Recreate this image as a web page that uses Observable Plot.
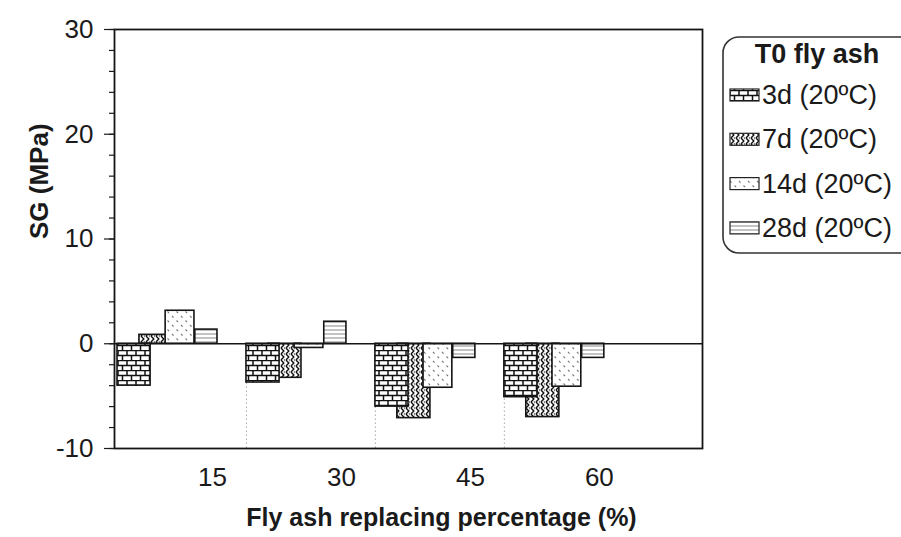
<!DOCTYPE html>
<html><head><meta charset="utf-8">
<script src="https://cdn.jsdelivr.net/npm/d3@7"></script>
<script src="https://cdn.jsdelivr.net/npm/@observablehq/plot@0.6"></script>
<style>
body{margin:0;background:#fff;}
#chart{position:relative;width:901px;height:537px;font-family:"Liberation Sans",Arial,sans-serif;color:#1a1a1a;}
</style>
</head><body><div id="chart"></div>
<script>
// ---- data ----
const percentages = [15, 30, 45, 60];
const series = ["3d (20ºC)", "7d (20ºC)", "14d (20ºC)", "28d (20ºC)"];
const sg3d  = [-4.0, -3.7, -6.0, -5.1];
const sg7d  = [0.85, -3.25, -7.1, -7.0];
const sg14d = [3.15, -0.4, -4.2, -4.1];
const sg28d = [1.35, 2.1, -1.35, -1.35];
const yTicks = [-10, 0, 10, 20, 30];
const yMinorTicks = [-10, -8, -6, -4, -2, 0, 2, 4, 6, 8, 10, 12, 14, 16, 18, 20, 22, 24, 26, 28, 30];
const legendTitle = "T0 fly ash";
const xTitle = "Fly ash replacing percentage (%)";
const yTitle = "SG (MPa)";

// ---- layout (not data) ----
const slots = [[-11.05, -7.2], [-8.5, -4.65], [-5.45, -2.1], [-2.0, 0.58]];
const patternIds = ["pat-brick", "pat-wave", "pat-dots", "pat-lines"];
const drawOrder = [1, 0, 2, 3];

const valuesBySeries = [sg3d, sg7d, sg14d, sg28d];
const table = [];
series.forEach((s, si) => percentages.forEach((p, pi) =>
  table.push({series: s, si, pct: p, value: valuesBySeries[si][pi]})));

const barMarks = drawOrder.map(si => Plot.rect(table, {
  filter: d => d.si === si,
  x1: d => d.pct + slots[si][0],
  x2: d => d.pct + slots[si][1],
  y1: () => 0,
  y2: "value",
  fill: `url(#${patternIds[si]})`,
  stroke: "#151515",
  strokeWidth: 1.6
}));

const svg = Plot.plot({
  width: 901,
  height: 537,
  marginLeft: 114,
  marginRight: 199,
  marginTop: 29,
  marginBottom: 89,
  style: {fontFamily: '"Liberation Sans", Arial, sans-serif', background: "#fff", color: "#1a1a1a", overflow: "visible"},
  x: {domain: [3.6, 72], axis: null},
  y: {domain: [-10, 30], axis: null},
  marks: [
    Plot.ruleX(percentages.slice(1), {x: d => d + slots[0][0], y1: () => -10, y2: () => 0, stroke: "#aaa", strokeDasharray: "1.5,2.5", strokeWidth: 1}),
    ...barMarks,
    Plot.ruleY([0], {stroke: "#151515", strokeWidth: 1.6}),
    Plot.frame({stroke: "#151515", strokeWidth: 1.8}),
    Plot.axisY({ticks: yMinorTicks, tickSize: 5, tickFormat: () => "", label: null, strokeWidth: 1.2}),
    Plot.axisY({ticks: yTicks, tickSize: 10, tickPadding: 11, fontSize: 26, tickFormat: d => String(d), label: null, strokeWidth: 1.2}),
    Plot.axisX({ticks: percentages, tickSize: 0, tickPadding: 19, fontSize: 26, label: null}),
    Plot.text([yTitle], {frameAnchor: "left", rotate: -90, dx: -75, fontSize: 26, fontWeight: "bold"}),
    Plot.text([xTitle], {frameAnchor: "bottom", dx: 33, dy: 77, fontSize: 25, fontWeight: "bold"})
  ]
});

// ---- patterns ----
const defs = d3.select(svg).insert("defs", ":first-child");
function pat(id, w, h) {
  const p = defs.append("pattern").attr("id", id).attr("patternUnits", "userSpaceOnUse")
    .attr("width", w).attr("height", h);
  p.append("rect").attr("width", w).attr("height", h).attr("fill", "#fff");
  return p;
}
{ // bricks
  const p = pat("pat-brick", 9, 10);
  p.append("path").attr("d", "M0,0.6H9M0,5.6H9M1,0V5.6M5.5,5.6V10")
    .attr("stroke", "#111").attr("stroke-width", 1.5).attr("fill", "none");
}
{ // waves
  const p = pat("pat-wave", 5, 6);
  p.append("path").attr("d", "M1,0 L3.8,3 L1,6").attr("stroke", "#111").attr("stroke-width", 1.4).attr("fill", "none");
  p.append("path").attr("d", "M3.8,0 L5,1.2 M3.8,6 L5,4.8").attr("stroke", "#444").attr("stroke-width", 0.8).attr("fill", "none");
}
{ // dots
  const p = pat("pat-dots", 9, 9);
  p.append("path").attr("d", "M1,1 L2.6,2.6 M5.5,5.5 L7.1,7.1").attr("stroke", "#777").attr("stroke-width", 1.1).attr("fill", "none");
}
{ // lines
  const p = pat("pat-lines", 4, 4);
  p.append("path").attr("d", "M0,2H4").attr("stroke", "#888").attr("stroke-width", 1).attr("fill", "none");
}

// ---- legend ----
const lg = d3.select(svg).append("g").attr("font-family", '"Liberation Sans", Arial, sans-serif')
  .attr("fill", "#1a1a1a").attr("text-anchor", "start");
lg.append("rect").attr("x", 723).attr("y", 37).attr("width", 200).attr("height", 216).attr("rx", 16)
  .attr("fill", "#fff").attr("stroke", "#333").attr("stroke-width", 1.6);
lg.append("text").attr("x", 817).attr("y", 63).attr("text-anchor", "middle")
  .attr("font-size", 27).attr("font-weight", "bold").text(legendTitle);
series.forEach((s, i) => {
  const base = 104 + i * 44.3;
  lg.append("rect").attr("x", 730).attr("y", base - 15).attr("width", 29).attr("height", 12)
    .attr("fill", `url(#${patternIds[i]})`).attr("stroke", "#222").attr("stroke-width", 1.2);
  lg.append("text").attr("x", 762).attr("y", base).attr("text-anchor", "start").attr("font-size", 27).text(s);
});

document.getElementById("chart").appendChild(svg);
</script>
</body></html>
